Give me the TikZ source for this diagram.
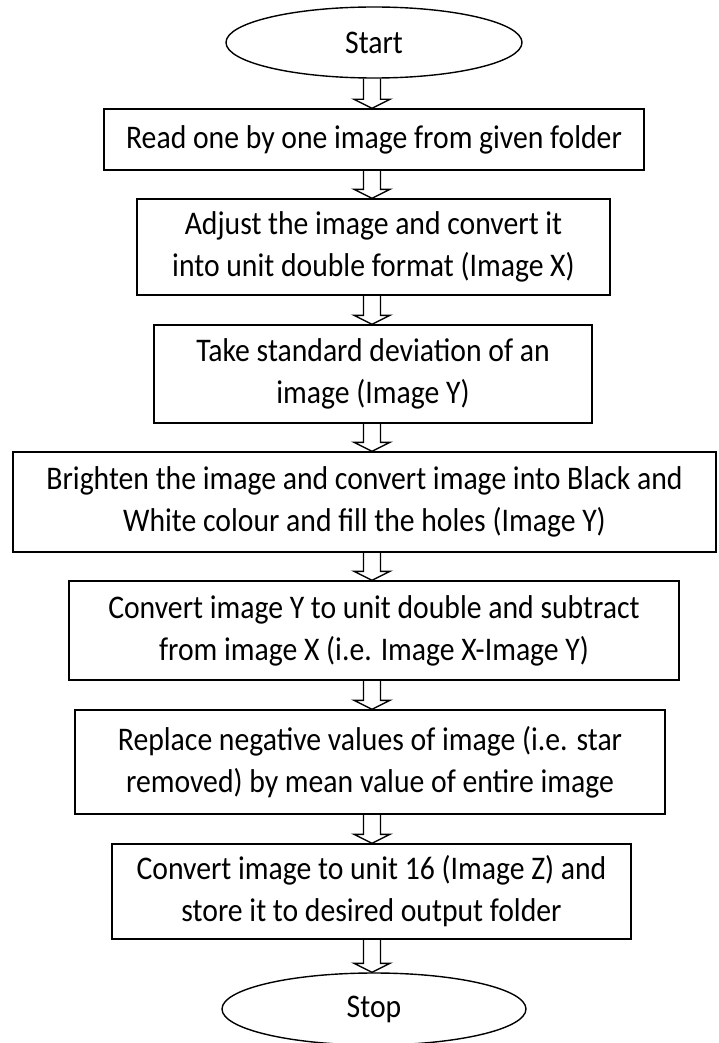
\documentclass[tikz,border=0pt]{standalone}
\usepackage{fontspec}
\setmainfont{Carlito}[FakeStretch=0.90]
\usetikzlibrary{calc,shapes.geometric}
\begin{document}
\begin{tikzpicture}[x=1pt,y=-1pt,
  txt/.style={font=\fontsize{33}{42}\selectfont},
  stepbox/.style={txt, draw, line width=1.4pt, rectangle, inner sep=0pt, align=center},
  term/.style={txt, draw, line width=1.4pt, ellipse, inner sep=0pt},
  blk/.style={draw, line width=1.4pt, line join=miter}]
\path[use as bounding box] (0,0) rectangle (719,1043);
\coordinate (ax) at (372,0);
\node[term, minimum width=296pt, minimum height=71pt] (start) at (374,42.5) {Start};
\node[stepbox, minimum width=540pt, minimum height=61pt] (b1) at (374,139.5) {Read one by one image from given folder};
\node[stepbox, minimum width=473pt, minimum height=96pt] (b2) at (373.5,247) {Adjust the image and convert it\\into unit double format (Image X)};
\node[stepbox, minimum width=438pt, minimum height=98pt] (b3) at (373,374) {Take standard deviation of an\\image (Image Y)};
\node[stepbox, minimum width=703pt, minimum height=100pt] (b4) at (364.5,502) {Brighten the image and convert image into Black and\\White colour and fill the holes (Image Y)};
\node[stepbox, minimum width=610pt, minimum height=99pt] (b5) at (374,630.5) {Convert image Y to unit double and subtract\\from image X (i.e. Image X-Image Y)};
\node[stepbox, minimum width=590pt, minimum height=104pt] (b6) at (370,762) {Replace negative values of image (i.e. star\\removed) by mean value of entire image};
\node[stepbox, minimum width=519pt, minimum height=95pt] (b7) at (371.5,891.5) {Convert image to unit 16 (Image Z) and\\store it to desired output folder};
\node[term, minimum width=304pt, minimum height=72pt] (stop) at (374,1009) {Stop};
\foreach \a/\b in {start/b1,b1/b2,b2/b3,b3/b4,b4/b5,b5/b6,b6/b7,b7/stop}{
  \draw[blk] ($(\a.south -| ax)+(-8.5,0)$) -- ($(\b.north -| ax)+(-8.5,-9)$)
    -- ($(\b.north -| ax)+(-18,-9)$) -- (\b.north -| ax)
    -- ($(\b.north -| ax)+(18,-9)$) -- ($(\b.north -| ax)+(8.5,-9)$)
    -- ($(\a.south -| ax)+(8.5,0)$);
}
\end{tikzpicture}
\end{document}
